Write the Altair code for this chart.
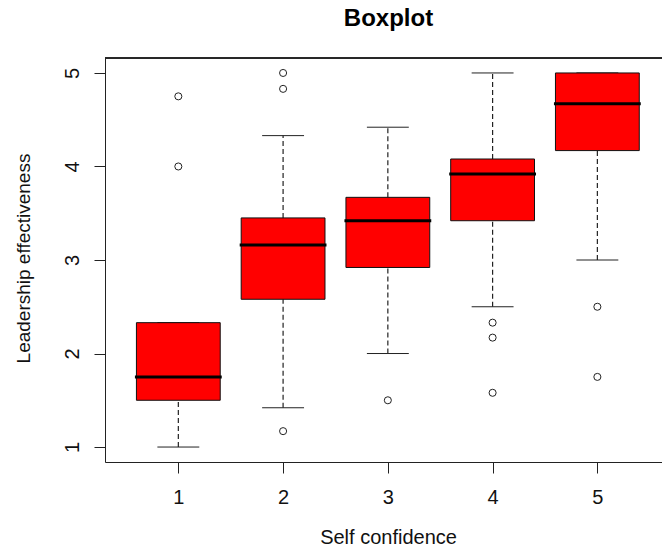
import altair as alt
import pandas as pd

# Five-number summaries per self-confidence level
groups = [1, 2, 3, 4, 5]
lower_whisker = [1.00, 1.42, 2.00, 2.50, 3.00]
q1 = [1.50, 2.58, 2.92, 3.42, 4.17]
median = [1.75, 3.16, 3.42, 3.92, 4.67]
q3 = [2.33, 3.45, 3.67, 4.08, 5.00]
upper_whisker = [2.33, 4.33, 4.42, 5.00, 5.00]

# Points beyond the whiskers
outlier_group = [1, 1, 2, 2, 2, 3, 4, 4, 4, 5, 5]
outlier_value = [4.75, 4.00, 5.00, 4.83, 1.17, 1.50, 2.33, 2.17, 1.58, 2.50, 1.75]

y_ticks = [1, 2, 3, 4, 5]

boxes = pd.DataFrame({
    "group": groups,
    "lower": lower_whisker,
    "q1": q1,
    "median": median,
    "q3": q3,
    "upper": upper_whisker,
})
outliers = pd.DataFrame({"group": outlier_group, "value": outlier_value})

FONT = "Liberation Sans"
LINE = "#222222"

x_scale = alt.Scale(domain=[0.3, 5.617], nice=False, zero=False)
y_scale = alt.Scale(domain=[0.84, 5.16], nice=False, zero=False)

x_axis = alt.Axis(
    values=groups, format="d", grid=False, tickSize=11, tickColor=LINE,
    domainColor=LINE, labelFont=FONT, labelFontSize=20, labelColor="#111",
    labelBaseline="alphabetic", labelPadding=30, labelFlush=False,
    title="Self confidence", titleFont=FONT, titleFontSize=20,
    titleFontWeight="normal", titleColor="#111", titleBaseline="alphabetic",
    titleAlign="center", titleX=283, titleY=81,
)
y_axis = alt.Axis(
    values=y_ticks, format="d", grid=False, tickSize=11, tickColor=LINE,
    domainColor=LINE, labelFont=FONT, labelFontSize=20, labelColor="#111",
    labelAngle=270, labelAlign="center", labelBaseline="alphabetic",
    labelPadding=16, labelFlush=False,
    title="Leadership effectiveness", titleFont=FONT, titleFontSize=19,
    titleFontWeight="normal", titleColor="#111", titleAngle=270,
    titleBaseline="alphabetic", titleAlign="center", titleX=-76, titleY=200,
)

base = alt.Chart(boxes).transform_calculate(
    box_lo="datum.group - 0.4",
    box_hi="datum.group + 0.4",
    cap_lo="datum.group - 0.2",
    cap_hi="datum.group + 0.2",
)

whisker_up = base.mark_rule(color=LINE, strokeWidth=1.2, strokeDash=[5, 3]).encode(
    x=alt.X("group:Q", scale=x_scale, axis=x_axis),
    y=alt.Y("q3:Q", scale=y_scale, axis=y_axis),
    y2="upper:Q",
)
whisker_down = base.mark_rule(color=LINE, strokeWidth=1.2, strokeDash=[5, 3]).encode(
    x=alt.X("group:Q", scale=x_scale, axis=x_axis),
    y=alt.Y("lower:Q", scale=y_scale, axis=y_axis),
    y2="q1:Q",
)
cap_up = base.mark_rule(color=LINE, strokeWidth=1).encode(
    x=alt.X("cap_lo:Q", scale=x_scale, axis=x_axis),
    x2="cap_hi:Q",
    y=alt.Y("upper:Q", scale=y_scale, axis=y_axis),
)
cap_down = base.mark_rule(color=LINE, strokeWidth=1).encode(
    x=alt.X("cap_lo:Q", scale=x_scale, axis=x_axis),
    x2="cap_hi:Q",
    y=alt.Y("lower:Q", scale=y_scale, axis=y_axis),
)
box = base.mark_rect(fill="#ff0000", stroke="#111111", strokeWidth=1).encode(
    x=alt.X("box_lo:Q", scale=x_scale, axis=x_axis),
    x2="box_hi:Q",
    y=alt.Y("q1:Q", scale=y_scale, axis=y_axis),
    y2="q3:Q",
)
med = base.mark_rule(color="#000000", strokeWidth=3, strokeCap="square").encode(
    x=alt.X("box_lo:Q", scale=x_scale, axis=x_axis),
    x2="box_hi:Q",
    y=alt.Y("median:Q", scale=y_scale, axis=y_axis),
)
points = alt.Chart(outliers).mark_point(
    shape="circle", filled=False, size=50, color=LINE, strokeWidth=1, opacity=1
).encode(
    x=alt.X("group:Q", scale=x_scale, axis=x_axis),
    y=alt.Y("value:Q", scale=y_scale, axis=y_axis),
)
# top edge of the plot frame
frame_top = alt.Chart(boxes).mark_rule(color=LINE, strokeWidth=1).encode(
    y=alt.datum(5.16, scale=y_scale, axis=y_axis),
)

chart = alt.layer(
    frame_top, whisker_up, whisker_down, cap_up, cap_down, box, med, points
).properties(
    width=557,
    height=404,
    title=alt.TitleParams(
        "Boxplot", font=FONT, fontSize=24, fontWeight="bold", color="#000",
        anchor="middle", baseline="alphabetic", offset=8, dx=5,
    ),
    autosize=alt.AutoSizeParams(type="none"),
    padding={"left": 105, "top": 58, "right": 0, "bottom": 86},
).configure_view(stroke=None).configure(background="white")

chart.save("out.html", embed_options={"renderer": "svg", "actions": False})
